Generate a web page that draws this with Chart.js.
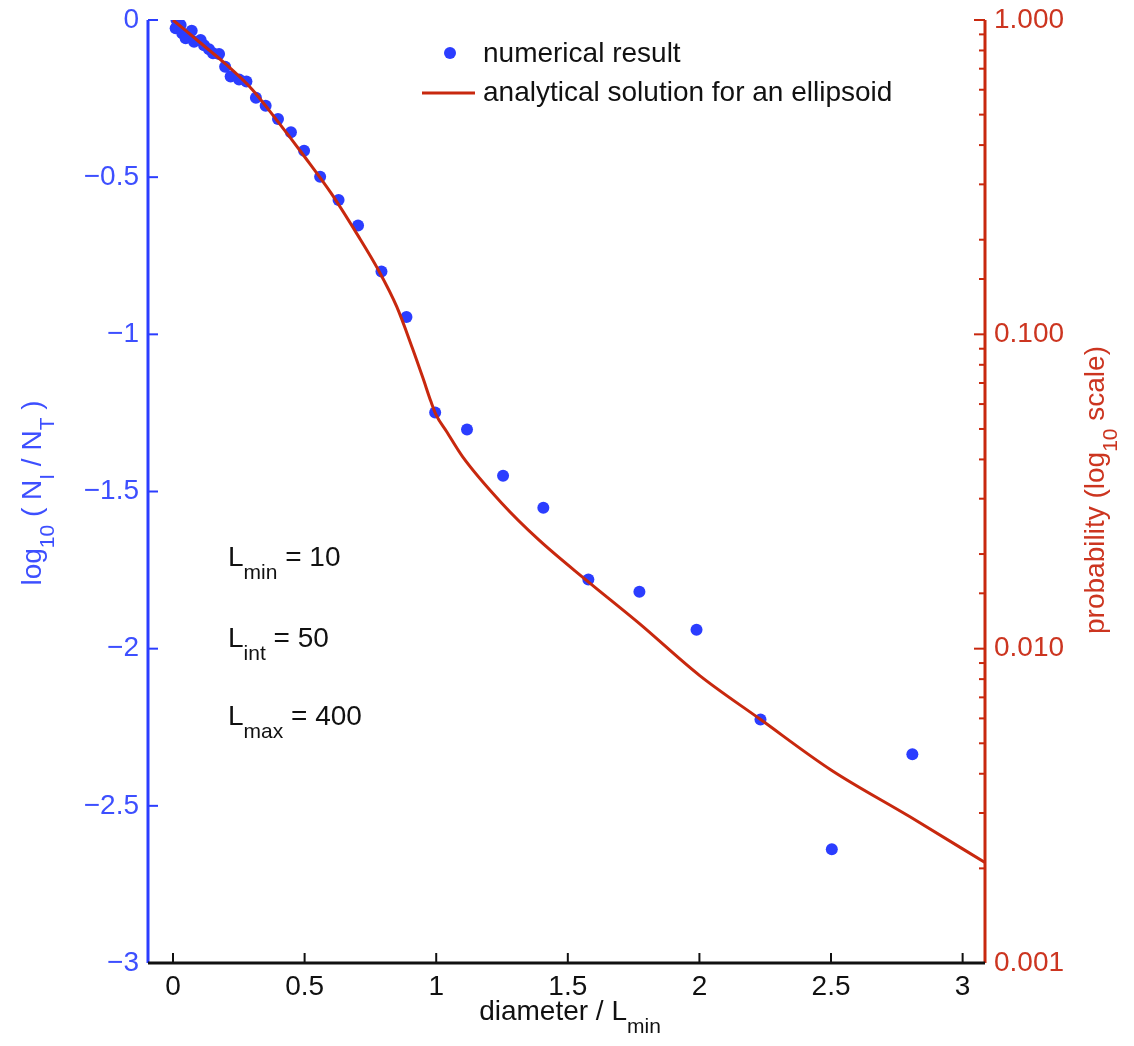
<!DOCTYPE html>
<html>
<head>
<meta charset="utf-8">
<script src="https://cdn.jsdelivr.net/npm/chart.js@4.4.0/dist/chart.umd.min.js"></script>
<style>
    html, body { margin: 0; padding: 0; background: #fff; }
    canvas { display: block; }
</style>
</head>
<body>
<canvas id="chart" width="1134" height="1046"></canvas>
<script>
// numerical result (blue dots)
const numX = [0.013, 0.010, 0.029, 0.035, 0.048, 0.071, 0.080, 0.105, 0.118, 0.137, 0.152, 0.175,
    0.198, 0.219, 0.251, 0.279, 0.315, 0.352, 0.399, 0.448, 0.498, 0.559, 0.629, 0.703, 0.792,
    0.887, 0.996, 1.117, 1.254, 1.407, 1.578, 1.772, 1.989, 2.232, 2.503, 2.809];
const numY = [0.0, -0.026, -0.016, -0.042, -0.058, -0.034, -0.069, -0.064, -0.080, -0.093, -0.106, -0.108,
    -0.149, -0.180, -0.189, -0.196, -0.247, -0.273, -0.315, -0.357, -0.416, -0.499, -0.573, -0.654, -0.800,
    -0.945, -1.249, -1.303, -1.450, -1.552, -1.780, -1.819, -1.940, -2.225, -2.638, -2.336];

// analytical solution for an ellipsoid (red line)
const fitX = [0, 0.1, 0.2, 0.3, 0.4, 0.5, 0.6, 0.7, 0.78, 0.85, 0.91, 0.95, 0.98, 1.0, 1.04, 1.1,
    1.25, 1.39, 1.57, 1.77, 2.0, 2.23, 2.5, 2.8, 3.1];
const fitY = [0, -0.07, -0.14, -0.22, -0.325, -0.435, -0.55, -0.682, -0.795, -0.912, -1.045, -1.14, -1.214, -1.257,
    -1.31, -1.389, -1.538, -1.654, -1.782, -1.919, -2.085, -2.224, -2.386, -2.535, -2.688];

const xTicks = [0, 0.5, 1, 1.5, 2, 2.5, 3];
const xTickLabels = ['0', '0.5', '1', '1.5', '2', '2.5', '3'];
const yTicks = [-3, -2.5, -2, -1.5, -1, -0.5, 0];
const yTickLabels = ['\u22123', '\u22122.5', '\u22122', '\u22121.5', '\u22121', '\u22120.5', '0'];
const probTicks = [0.001, 0.01, 0.1, 1];
const probTickLabels = ['0.001', '0.010', '0.100', '1.000'];

const BLUE = '#2b3dff';
const BLUE_TXT = '#3d4fff';
const RED = '#c8280e';
const RED_TXT = '#cc3520';
const FONT = "'Liberation Sans', Arial, sans-serif";
const FS = 28;

function richText(ctx, parts, x, y, size, color, align) {
    ctx.fillStyle = color;
    ctx.textAlign = 'left';
    ctx.textBaseline = 'alphabetic';
    let w = 0;
    parts.forEach(p => {
        ctx.font = (p.sub ? Math.round(size * 0.74) : size) + 'px ' + FONT;
        w += ctx.measureText(p.t).width;
    });
    let cx = align === 'center' ? x - w / 2 : x;
    parts.forEach(p => {
        ctx.font = (p.sub ? Math.round(size * 0.74) : size) + 'px ' + FONT;
        ctx.fillText(p.t, cx, p.sub ? y + size * 0.48 : y);
        cx += ctx.measureText(p.t).width;
    });
}

function seg(ctx, x1, y1, x2, y2) {
    ctx.beginPath();
    ctx.moveTo(x1, y1);
    ctx.lineTo(x2, y2);
    ctx.stroke();
}

// fixed box sizes so the plot area sits where the original does
function fixVertical(width) {
    return s => {
        s.width = width;
        s.paddingTop = 0;
        s.paddingBottom = 0;
    };
}

const axesPlugin = {
    id: 'axesPlugin',
    afterDraw(chart) {
        const { ctx, chartArea: a, scales } = chart;
        ctx.save();
        ctx.lineCap = 'butt';

        // left axis (blue)
        ctx.strokeStyle = BLUE;
        ctx.lineWidth = 3;
        seg(ctx, a.left, a.top, a.left, a.bottom);
        ctx.lineWidth = 2;
        yTicks.forEach(v => {
            const y = scales.y.getPixelForValue(v);
            seg(ctx, a.left, y, a.left + 10, y);
        });

        // right axis (red, log)
        ctx.strokeStyle = RED;
        ctx.lineWidth = 3;
        seg(ctx, a.right, a.top, a.right, a.bottom);
        ctx.lineWidth = 2;
        scales.y2.ticks.forEach(t => {
            const y = scales.y2.getPixelForValue(t.value);
            const major = probTicks.some(p => Math.abs(p - t.value) / p < 1e-6);
            seg(ctx, a.right - (major ? 11 : 6), y, a.right, y);
        });

        // bottom axis (black)
        ctx.strokeStyle = '#111';
        ctx.lineWidth = 3;
        seg(ctx, a.left, a.bottom, a.right, a.bottom);
        ctx.lineWidth = 2;
        xTicks.forEach(v => {
            const x = scales.x.getPixelForValue(v);
            seg(ctx, x, a.bottom, x, a.bottom - 10);
        });

        // axis titles
        richText(ctx, [{ t: 'diameter / L' }, { t: 'min', sub: true }], 570, 1020, FS, '#111', 'center');

        ctx.save();
        ctx.translate(41, 493);
        ctx.rotate(-Math.PI / 2);
        richText(ctx, [{ t: 'log' }, { t: '10', sub: true }, { t: ' ( N' }, { t: 'I', sub: true },
            { t: ' / N' }, { t: 'T', sub: true }, { t: ' )' }], 0, 0, FS, BLUE_TXT, 'center');
        ctx.restore();

        ctx.save();
        ctx.translate(1104, 490);
        ctx.rotate(-Math.PI / 2);
        richText(ctx, [{ t: 'probability (log' }, { t: '10', sub: true }, { t: ' scale)' }],
            0, 0, FS, RED_TXT, 'center');
        ctx.restore();

        // parameter annotations
        richText(ctx, [{ t: 'L' }, { t: 'min', sub: true }, { t: ' = 10' }], 228, 566, FS, '#111', 'left');
        richText(ctx, [{ t: 'L' }, { t: 'int', sub: true }, { t: ' = 50' }], 228, 647, FS, '#111', 'left');
        richText(ctx, [{ t: 'L' }, { t: 'max', sub: true }, { t: ' = 400' }], 228, 725, FS, '#111', 'left');

        // legend
        ctx.fillStyle = BLUE;
        ctx.beginPath();
        ctx.arc(450, 53, 6, 0, Math.PI * 2);
        ctx.fill();
        ctx.strokeStyle = RED;
        ctx.lineWidth = 3;
        seg(ctx, 422, 93, 475, 93);
        ctx.fillStyle = '#111';
        ctx.font = FS + 'px ' + FONT;
        ctx.textAlign = 'left';
        ctx.textBaseline = 'middle';
        ctx.fillText('numerical result', 483, 54);
        ctx.fillText('analytical solution for an ellipsoid', 483, 93);

        ctx.restore();
    }
};

const ctx = document.getElementById('chart').getContext('2d');

new Chart(ctx, {
    type: 'scatter',
    data: {
        datasets: [
            {
                type: 'line',
                label: 'analytical solution for an ellipsoid',
                data: fitX.map((x, i) => ({ x: x, y: fitY[i] })),
                borderColor: RED,
                borderWidth: 3,
                pointRadius: 0,
                cubicInterpolationMode: 'monotone',
                fill: false,
                yAxisID: 'y',
                order: 0
            },
            {
                label: 'numerical result',
                data: numX.map((x, i) => ({ x: x, y: numY[i] })),
                backgroundColor: BLUE,
                borderWidth: 0,
                pointRadius: 6,
                yAxisID: 'y',
                order: 1
            }
        ]
    },
    options: {
        responsive: false,
        animation: false,
        layout: { padding: { top: 20, left: 0, right: 0, bottom: 0 } },
        plugins: {
            legend: { display: false },
            tooltip: { enabled: false }
        },
        scales: {
            x: {
                type: 'linear',
                min: -0.095,
                max: 3.085,
                afterBuildTicks: s => { s.ticks = xTicks.map(v => ({ value: v })); },
                afterFit: s => { s.height = 83; s.paddingLeft = 0; s.paddingRight = 0; },
                grid: { display: false, drawTicks: false },
                border: { display: false },
                ticks: {
                    autoSkip: false,
                    maxRotation: 0,
                    padding: 7,
                    color: '#111',
                    font: { family: FONT, size: FS },
                    callback: v => xTickLabels[xTicks.indexOf(v)]
                }
            },
            y: {
                type: 'linear',
                position: 'left',
                min: -3,
                max: 0,
                afterBuildTicks: s => { s.ticks = yTicks.map(v => ({ value: v })); },
                afterFit: fixVertical(148),
                grid: { display: false, drawTicks: false },
                border: { display: false },
                ticks: {
                    autoSkip: false,
                    padding: 9,
                    color: BLUE_TXT,
                    font: { family: FONT, size: FS },
                    callback: v => yTickLabels[yTicks.indexOf(v)]
                }
            },
            y2: {
                type: 'logarithmic',
                position: 'right',
                display: true,
                min: 0.001,
                max: 1,
                afterFit: fixVertical(149),
                grid: { display: false, drawTicks: false },
                border: { display: false },
                ticks: {
                    autoSkip: false,
                    padding: 9,
                    color: RED_TXT,
                    font: { family: FONT, size: FS },
                    callback: v => {
                        const i = probTicks.findIndex(p => Math.abs(p - v) / p < 1e-6);
                        return i >= 0 ? probTickLabels[i] : '';
                    }
                }
            }
        }
    },
    plugins: [axesPlugin]
});
</script>
</body>
</html>
